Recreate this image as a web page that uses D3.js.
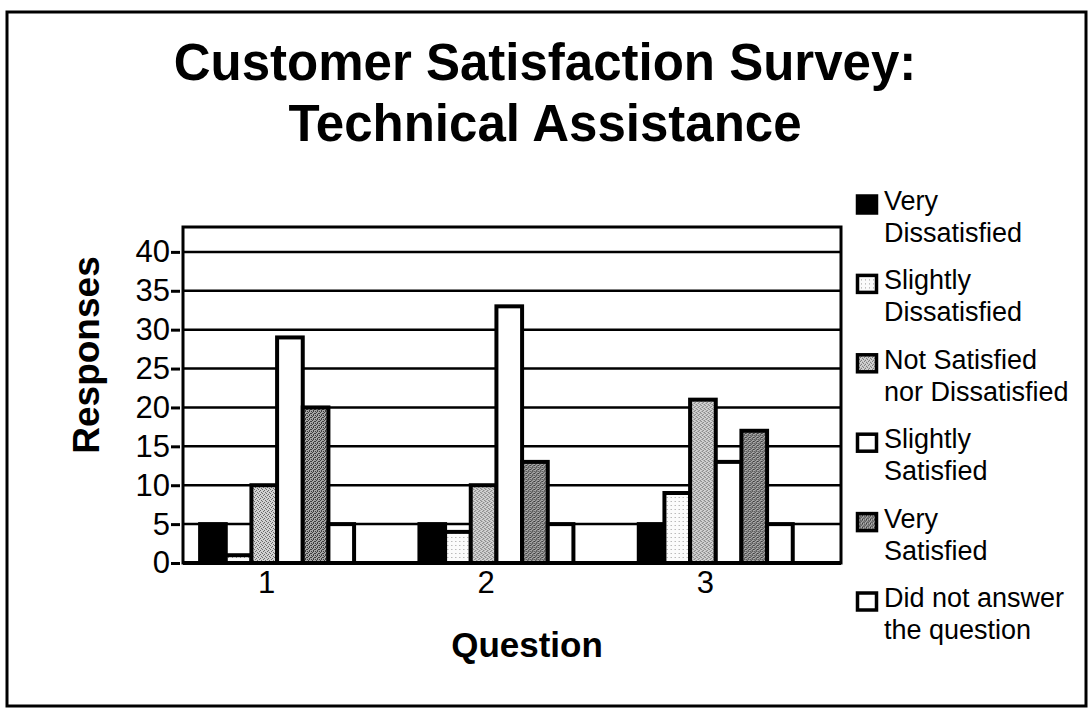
<!DOCTYPE html>
<html>
<head>
<meta charset="utf-8">
<script src="https://cdn.jsdelivr.net/npm/d3@7"></script>
<style>
  body { margin: 0; background: #fff; }
  svg { display: block; font-family: 'Liberation Sans', Arial, Helvetica, sans-serif; }
</style>
</head>
<body>
<svg id="chart"></svg>
<script>
const titleLines = ['Customer Satisfaction Survey:', 'Technical Assistance']
const questions = ['1', '2', '3']
const seriesNames = ['Very Dissatisfied', 'Slightly Dissatisfied', 'Not Satisfied nor Dissatisfied',
    'Slightly Satisfied', 'Very Satisfied', 'Did not answer the question']
const legendLabels = [['Very', 'Dissatisfied'], ['Slightly', 'Dissatisfied'], ['Not Satisfied', 'nor Dissatisfied'],
    ['Slightly', 'Satisfied'], ['Very', 'Satisfied'], ['Did not answer', 'the question']]

// responses per question (70 per question)
const veryDissatisfied = [5, 5, 5]
const slightlyDissatisfied = [1, 4, 9]
const notSatisfiedNorDissatisfied = [10, 10, 21]
const slightlySatisfied = [29, 33, 13]
const verySatisfied = [20, 13, 17]
const didNotAnswer = [5, 5, 5]

const yTicks = [0, 5, 10, 15, 20, 25, 30, 35, 40]

class GroupedBars {

    constructor(_config, _data) {
        this.config = {
            parentElement: _config.parentElement,
            containerWidth: _config.containerWidth || 1090,
            containerHeight: _config.containerHeight || 708,
            margin: { top: 227, right: 249, bottom: 145, left: 183 }
        }
        this.data = _data
        this.initVis()
    }

    initVis() {
        let vis = this

        vis.width = vis.config.containerWidth - vis.config.margin.left - vis.config.margin.right
        vis.height = vis.config.containerHeight - vis.config.margin.top - vis.config.margin.bottom

        vis.svg = d3.select(vis.config.parentElement)
            .attr('width', vis.config.containerWidth)
            .attr('height', vis.config.containerHeight)

        // scanned stipple fills
        const defs = vis.svg.append('defs')
        const addDots = (id, bg, dot, cells) => {
            const p = defs.append('pattern')
                .attr('id', id)
                .attr('patternUnits', 'userSpaceOnUse')
                .attr('width', 4)
                .attr('height', 4)
            p.append('rect').attr('width', 4).attr('height', 4).attr('fill', bg)
            cells.forEach(c => p.append('rect')
                .attr('x', c[0]).attr('y', c[1]).attr('width', 1).attr('height', 1).attr('fill', dot))
        }
        addDots('dotsLight', '#fbfbfb', '#9a9a9a', [[1, 2]])
        addDots('dotsMid', '#d2d2d2', '#6a6a6a', [[0, 0], [2, 1], [1, 3], [3, 2]])
        addDots('dotsDark', '#a6a6a6', '#3c3c3c', [[0, 0], [2, 0], [1, 1], [3, 2], [0, 2], [2, 3]])

        vis.fills = ['#000', 'url(#dotsLight)', 'url(#dotsMid)', '#fff', 'url(#dotsDark)', '#fff']

        // outer frame
        vis.svg.append('rect')
            .attr('x', 7).attr('y', 12)
            .attr('width', 1079).attr('height', 694)
            .attr('fill', 'none')
            .attr('stroke', '#000')
            .attr('stroke-width', 3)

        vis.svg.selectAll('.title')
            .data(titleLines)
            .join('text')
                .attr('class', 'title')
                .attr('x', 545)
                .attr('y', (d, i) => 80 + i * 61)
                .attr('text-anchor', 'middle')
                .attr('font-size', 51)
                .attr('font-weight', 'bold')
                .text(d => d)

        vis.chart = vis.svg.append('g')
            .attr('transform', `translate(${vis.config.margin.left}, ${vis.config.margin.top})`)

        vis.xScale = d3.scaleBand()
            .domain(questions)
            .range([0, vis.width])

        vis.xSub = d3.scaleBand()
            .domain(seriesNames)
            .range([vis.xScale.bandwidth() * 0.078, vis.xScale.bandwidth() * 0.78])

        vis.yScale = d3.scaleLinear()
            .domain([0, 43.2])
            .range([vis.height, 0])

        vis.gridGroup = vis.chart.append('g').attr('class', 'grid')
        vis.barGroup = vis.chart.append('g').attr('class', 'bars')

        vis.chart.append('rect')
            .attr('class', 'frame')
            .attr('width', vis.width)
            .attr('height', vis.height)
            .attr('fill', 'none')
            .attr('stroke', '#000')
            .attr('stroke-width', 3)

        vis.chart.append('line')
            .attr('x1', 0).attr('x2', vis.width)
            .attr('y1', vis.height).attr('y2', vis.height)
            .attr('stroke', '#000')
            .attr('stroke-width', 4)

        vis.xAxis = d3.axisBottom(vis.xScale).tickSize(0)
        vis.yAxis = d3.axisLeft(vis.yScale).tickValues(yTicks).tickSize(9).tickPadding(1)

        // category labels sit left of the group centres in the original
        vis.xAxisGroup = vis.chart.append('g')
            .attr('class', 'axis x-axis')
            .attr('transform', `translate(-26, ${vis.height})`)

        vis.yAxisGroup = vis.chart.append('g')
            .attr('class', 'axis y-axis')
            .attr('transform', 'translate(-3, 0)')

        vis.chart.append('text')
            .attr('transform', `translate(${99 - vis.config.margin.left}, ${355 - vis.config.margin.top}) rotate(-90)`)
            .attr('text-anchor', 'middle')
            .attr('font-size', 37)
            .attr('font-weight', 'bold')
            .text('Responses')

        vis.chart.append('text')
            .attr('x', 527 - vis.config.margin.left)
            .attr('y', 657 - vis.config.margin.top)
            .attr('text-anchor', 'middle')
            .attr('font-size', 35)
            .attr('font-weight', 'bold')
            .text('Question')

        vis.legend = vis.svg.append('g')
            .attr('class', 'legend')
            .attr('transform', 'translate(856, 0)')
    }

    updateVis() {
        let vis = this
        vis.xValue = d => d.question
        vis.yValue = d => d.value
        vis.renderVis()
    }

    renderVis() {
        let vis = this

        vis.gridGroup.selectAll('.gridline')
            .data(yTicks.filter(d => d > 0))
            .join('line')
                .attr('class', 'gridline')
                .attr('x1', 0)
                .attr('x2', vis.width)
                .attr('y1', d => vis.yScale(d))
                .attr('y2', d => vis.yScale(d))
                .attr('stroke', '#000')
                .attr('stroke-width', 2.5)

        vis.barGroup.selectAll('.group')
            .data(vis.data)
            .join('g')
                .attr('class', 'group')
                .attr('transform', d => `translate(${vis.xScale(vis.xValue(d))}, 0)`)
            .selectAll('.bar')
            .data(d => d.values)
            .join('rect')
                .attr('class', 'bar')
                .attr('x', d => vis.xSub(d.key))
                .attr('y', d => vis.yScale(vis.yValue(d)))
                .attr('width', vis.xSub.bandwidth())
                .attr('height', d => vis.height - vis.yScale(vis.yValue(d)))
                .attr('fill', d => vis.fills[seriesNames.indexOf(d.key)])
                .attr('stroke', '#000')
                .attr('stroke-width', 4)

        vis.xAxisGroup.call(vis.xAxis)
        vis.xAxisGroup.select('.domain').remove()
        vis.xAxisGroup.selectAll('text')
            .attr('y', 30)
            .attr('dy', 0)
            .attr('font-size', 31)
            .attr('font-family', null)
            .attr('fill', '#000')

        vis.yAxisGroup.call(vis.yAxis)
        vis.yAxisGroup.select('.domain').remove()
        vis.yAxisGroup.selectAll('line')
            .attr('stroke', '#000')
            .attr('stroke-width', 3)
        vis.yAxisGroup.selectAll('text')
            .attr('font-size', 31)
            .attr('font-family', null)
            .attr('fill', '#000')

        const items = vis.legend.selectAll('.item')
            .data(seriesNames)
            .join('g')
                .attr('class', 'item')
                .attr('transform', (d, i) => `translate(0, ${210 + i * 79.4})`)

        items.append('rect')
            .attr('x', 1.5)
            .attr('y', -14)
            .attr('width', 19)
            .attr('height', 17)
            .attr('fill', (d, i) => vis.fills[i])
            .attr('stroke', '#000')
            .attr('stroke-width', 3.5)

        items.append('text')
            .attr('x', 28)
            .attr('font-size', 27)
            .selectAll('tspan')
            .data((d, i) => legendLabels[i])
            .join('tspan')
                .attr('x', 28)
                .attr('dy', (d, i) => i === 0 ? 0 : 32)
                .text(d => d)
    }
}

const seriesValues = [veryDissatisfied, slightlyDissatisfied, notSatisfiedNorDissatisfied,
    slightlySatisfied, verySatisfied, didNotAnswer]

const tableData = questions.map((q, i) => ({
    question: q,
    values: seriesNames.map((key, j) => ({ key: key, value: seriesValues[j][i] }))
}))

const chart = new GroupedBars({ parentElement: '#chart' }, tableData)
chart.updateVis()
</script>
</body>
</html>
